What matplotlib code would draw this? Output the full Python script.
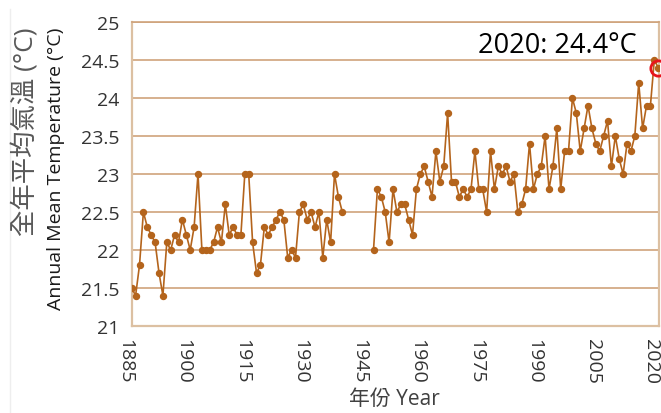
import numpy as np
import pandas as pd
import matplotlib.pyplot as plt
import matplotlib.transforms as mtransforms
from matplotlib.lines import Line2D

# %%
# Annual mean temperature (°C), two observation periods (no records 1940-1946)
temps_early = [
    21.5, 21.4, 21.8, 22.5, 22.3, 22.2, 22.1, 21.7, 21.4, 22.1,   # 1885-1894
    22.0, 22.2, 22.1, 22.4, 22.2, 22.0, 22.3, 23.0, 22.0, 22.0,   # 1895-1904
    22.0, 22.1, 22.3, 22.1, 22.6, 22.2, 22.3, 22.2, 22.2, 23.0,   # 1905-1914
    23.0, 22.1, 21.7, 21.8, 22.3, 22.2, 22.3, 22.4, 22.5, 22.4,   # 1915-1924
    21.9, 22.0, 21.9, 22.5, 22.6, 22.4, 22.5, 22.3, 22.5, 21.9,   # 1925-1934
    22.4, 22.1, 23.0, 22.7, 22.5,                                 # 1935-1939
]
temps_late = [
    22.0, 22.8, 22.7, 22.5, 22.1, 22.8, 22.5, 22.6, 22.6, 22.4,   # 1947-1956
    22.2, 22.8, 23.0, 23.1, 22.9, 22.7, 23.3, 22.9, 23.1, 23.8,   # 1957-1966
    22.9, 22.9, 22.7, 22.8, 22.7, 22.8, 23.3, 22.8, 22.8, 22.5,   # 1967-1976
    23.3, 22.8, 23.1, 23.0, 23.1, 22.9, 23.0, 22.5, 22.6, 22.8,   # 1977-1986
    23.4, 22.8, 23.0, 23.1, 23.5, 22.8, 23.1, 23.6, 22.8, 23.3,   # 1987-1996
    23.3, 24.0, 23.8, 23.3, 23.6, 23.9, 23.6, 23.4, 23.3, 23.5,   # 1997-2006
    23.7, 23.1, 23.5, 23.2, 23.0, 23.4, 23.3, 23.5, 24.2, 23.6,   # 2007-2016
    23.9, 23.9, 24.5, 24.4,                                       # 2017-2020
]
start_early, start_late = 1885, 1947

x_ticks = [1885, 1900, 1915, 1930, 1945, 1960, 1975, 1990, 2005, 2020]
y_ticks = [21, 21.5, 22, 22.5, 23, 23.5, 24, 24.5, 25]

highlight_year = 2020
highlight_label = '2020: 24.4°C'

# %%
s_early = pd.Series(temps_early, index=range(start_early, start_early + len(temps_early)))
s_late = pd.Series(temps_late, index=range(start_late, start_late + len(temps_late)))
serie = pd.concat([s_early, s_late]).reindex(range(start_early, start_late + len(temps_late)))

plt.rcParams['font.family'] = ['Open Sans', 'Noto Sans CJK TC', 'DejaVu Sans']

W, H = 661, 414
fig = plt.figure(figsize=(W / 100, H / 100), dpi=100)
ax = fig.add_axes([131.7 / W, 1 - 327 / H, (659 - 131.7) / W, (327 - 23) / H])

linha = '#b4641c'
grade = '#cfa37b'
borda = '#dcc0a2'

ax.plot(serie.index, serie.values, color=linha, linewidth=1.2,
        marker='o', markersize=4.3, markerfacecolor=linha, markeredgecolor=linha,
        zorder=3)

# red ring on the latest year
ax.plot([highlight_year], [serie[highlight_year]], marker='o', markersize=11,
        markerfacecolor='none', markeredgecolor='#e8141c', markeredgewidth=2,
        linestyle='none', clip_on=False, zorder=4)

ax.set_xlim(1885, 2020.2)
ax.set_ylim(21, 25)
ax.set_yticks(y_ticks)
ax.set_yticklabels([f'{v:g}' for v in y_ticks])
ax.set_xticks(x_ticks)
ax.set_xticklabels([str(v) for v in x_ticks], rotation=270, va='top', ha='center')

ax.tick_params(axis='both', length=0, colors='#333333')
ax.tick_params(axis='y', labelsize=14, pad=9)
ax.tick_params(axis='x', labelsize=14, pad=9)

# shift the rotated year labels slightly to the left
desloc = mtransforms.ScaledTranslation(-7 / 100, 0, fig.dpi_scale_trans)
for lbl in ax.get_xticklabels():
    lbl.set_transform(lbl.get_transform() + desloc)

ax.yaxis.grid(True, color=grade, linewidth=1.2)
ax.set_axisbelow(True)

for lado in ['left', 'bottom', 'right']:
    ax.spines[lado].set_color(borda)
    ax.spines[lado].set_linewidth(1.6)
ax.spines['top'].set_color(grade)
ax.spines['top'].set_linewidth(1.2)

ax.text(637 / W, 1 - 53 / H, highlight_label, transform=fig.transFigure,
        ha='right', va='baseline', fontsize=19.5, color='#000000')

# axis titles
fig.text(26 / W, 1 - 28 / H, '全年平均氣溫 (°C)', rotation=90, ha='center', va='top',
         fontsize=19, color='#595959')
fig.text(56 / W, 1 - 28 / H, 'Annual Mean Temperature (°C)', rotation=90, ha='center',
         va='top', fontsize=14, color='#1a1a1a')
fig.text(394 / W, 1 - 400 / H, '年份 Year', ha='center', va='center',
         fontsize=15, color='#404040')

fig.add_artist(Line2D([10 / W, 10 / W], [0, 1 - 10 / H], color='#eeeeee', linewidth=1))

fig.savefig('out.png', dpi=100, facecolor='white')
